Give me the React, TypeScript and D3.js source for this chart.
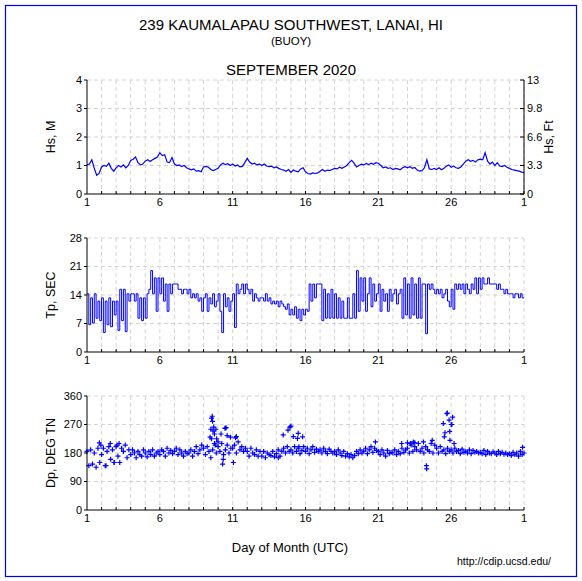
import React from "react";
import * as d3 from "d3";

// ---- Data ----
const HS_PER_DAY = 6;
const hsValues = [
  1.02, 1.05, 1.2, 0.9, 0.66, 0.72, // 1
  0.95, 1.0, 0.97, 1.08, 0.9, 0.8, // 2
  0.92, 1.0, 0.95, 1.02, 0.92, 1.0, // 3
  1.18, 1.22, 1.3, 1.1, 1.02, 1.05, // 4
  1.15, 1.2, 1.14, 1.2, 1.25, 1.3, // 5
  1.45, 1.35, 1.38, 1.12, 1.1, 1.28, // 6
  1.05, 1.0, 1.02, 0.96, 1.0, 0.92, // 7
  0.88, 0.85, 0.88, 0.8, 0.82, 0.78, // 8
  0.95, 0.97, 0.94, 0.86, 0.82, 0.86, // 9
  0.9, 1.02, 1.08, 1.03, 1.06, 1.0, // 10
  1.05, 0.98, 1.02, 0.95, 0.97, 1.1, // 11
  1.25, 1.12, 1.05, 1.08, 1.02, 1.05, // 12
  1.0, 1.05, 0.98, 0.96, 0.98, 0.92, // 13
  0.95, 0.9, 0.86, 0.84, 0.8, 0.86, // 14
  0.76, 0.84, 0.8, 0.78, 0.88, 0.92, // 15
  0.78, 0.72, 0.7, 0.74, 0.72, 0.74, // 16
  0.8, 0.86, 0.8, 0.84, 0.82, 0.86, // 17
  0.9, 0.88, 0.94, 0.9, 0.95, 1.0, // 18
  1.1, 1.18, 1.08, 0.95, 1.0, 1.05, // 19
  1.02, 1.07, 1.03, 1.08, 1.04, 1.1, // 20
  1.08, 1.0, 0.92, 0.95, 0.9, 0.92, // 21
  0.86, 0.9, 0.88, 0.85, 0.92, 0.96, // 22
  0.92, 0.96, 0.9, 0.93, 0.84, 0.8, // 23
  0.82, 0.92, 1.2, 0.88, 0.86, 0.9, // 24
  0.86, 0.92, 0.85, 0.9, 0.97, 1.02, // 25
  0.94, 0.98, 0.92, 0.9, 0.95, 1.05, // 26
  1.15, 1.2, 1.15, 1.18, 1.12, 1.2, // 27
  1.22, 1.2, 1.45, 1.15, 1.05, 1.12, // 28
  1.0, 1.1, 0.98, 0.96, 1.0, 0.94, // 29
  0.9, 0.86, 0.84, 0.82, 0.8, 0.77, // 30
  0.76,
];

const TP_PER_DAY = 8;
const tpValues = [
  14.3, 6.7, 13.3, 7.1, 14.3, 8.3, 12.5, 7.7, // 1
  13.3, 4.8, 12.5, 6.7, 13.3, 6.2, 12.5, 9.1, // 2
  12.5, 5.3, 15.4, 7.7, 15.4, 5.0, 14.3, 12.5, // 3
  14.3, 14.3, 12.5, 14.3, 8.3, 13.3, 7.7, 13.3, // 4
  8.3, 14.3, 15.4, 20.0, 14.3, 18.2, 10.0, 18.2, // 5
  14.3, 18.2, 12.5, 16.7, 10.0, 16.7, 14.3, 16.7, // 6
  16.7, 16.7, 15.4, 15.4, 14.3, 15.4, 15.4, 14.3, // 7
  15.4, 13.3, 14.3, 13.3, 14.3, 12.5, 13.3, 10.0, // 8
  13.3, 14.3, 10.0, 13.3, 11.8, 14.3, 11.1, 12.5, // 9
  14.3, 10.0, 4.8, 14.3, 11.1, 13.3, 10.0, 12.5, // 10
  14.3, 6.0, 16.7, 14.3, 15.4, 16.7, 14.3, 16.7, // 11
  15.4, 14.3, 15.4, 12.5, 14.3, 13.3, 12.5, 13.3, // 12
  13.3, 12.5, 14.3, 12.5, 13.3, 11.8, 12.5, 11.8, // 13
  12.5, 11.1, 12.5, 11.8, 11.1, 10.5, 11.8, 9.1, // 14
  10.5, 9.1, 11.1, 8.3, 10.5, 7.7, 10.5, 9.1, // 15
  10.5, 10.0, 16.7, 12.5, 16.7, 13.3, 16.7, 16.7, // 16
  16.7, 7.7, 15.4, 8.3, 14.3, 8.3, 15.4, 8.3, // 17
  14.3, 8.3, 13.3, 8.3, 12.5, 8.3, 8.3, 13.3, // 18
  8.3, 8.3, 14.3, 8.3, 20.0, 10.0, 18.2, 12.5, // 19
  18.2, 10.0, 14.3, 18.2, 11.1, 16.7, 12.5, 14.3, // 20
  16.7, 10.0, 15.4, 12.5, 14.3, 10.0, 15.4, 12.5, // 21
  14.3, 15.4, 11.8, 14.3, 15.4, 8.3, 18.2, 9.1, // 22
  16.7, 8.3, 18.2, 9.1, 16.7, 8.3, 18.2, 8.3, // 23
  16.7, 16.7, 4.5, 16.7, 15.4, 16.7, 15.4, 14.3, // 24
  15.4, 14.3, 15.4, 13.3, 14.3, 15.4, 12.5, 11.1, // 25
  15.4, 10.5, 16.7, 15.4, 16.7, 15.4, 16.7, 14.3, // 26
  16.7, 15.4, 14.3, 16.7, 15.4, 18.2, 14.3, 18.2, // 27
  15.4, 18.2, 16.7, 16.7, 18.2, 16.7, 16.7, 16.7, // 28
  16.7, 15.4, 16.7, 15.4, 15.4, 14.3, 15.4, 14.3, // 29
  14.3, 14.3, 13.3, 14.3, 14.3, 13.3, 14.3, 13.3, // 30
  13.3,
];

const DP_PER_DAY = 8;
const dpValues = [
  185, 140, 190, 145, 180, 135, 195, 150, // 1
  175, 195, 140, 185, 200, 160, 190, 150, // 2
  200, 170, 150, 195, 185, 205, 165, 190, // 3
  175, 190, 180, 165, 185, 175, 170, 190, // 4
  180, 168, 185, 175, 190, 170, 180, 185, // 5
  175, 190, 185, 170, 195, 180, 188, 178, // 6
  185, 195, 175, 190, 180, 170, 185, 178, // 7
  180, 190, 170, 185, 200, 178, 190, 205, // 8
  195, 175, 200, 185, 165, 190, 210, 180, // 9
  200, 185, 210, 175, 190, 205, 180, 195, // 10
  195, 205, 180, 215, 190, 200, 185, 195, // 11
  185, 170, 195, 180, 175, 190, 170, 185, // 12
  170, 185, 165, 180, 175, 172, 185, 168, // 13
  178, 190, 170, 185, 195, 180, 200, 185, // 14
  190, 180, 200, 185, 195, 178, 188, 200, // 15
  185, 195, 178, 190, 200, 182, 192, 185, // 16
  190, 180, 195, 185, 178, 192, 185, 180, // 17
  185, 175, 190, 180, 172, 185, 170, 178, // 18
  168, 175, 165, 172, 185, 178, 190, 180, // 19
  185, 195, 178, 190, 200, 182, 195, 188, // 20
  185, 175, 190, 180, 170, 188, 178, 182, // 21
  180, 190, 175, 185, 178, 195, 182, 190, // 22
  195, 180, 205, 185, 200, 190, 210, 185, // 23
  195, 180, 200, 190, 185, 210, 180, 205, // 24
  195, 180, 200, 185, 190, 178, 195, 185, // 25
  190, 180, 195, 185, 188, 178, 192, 182, // 26
  185, 180, 190, 178, 188, 182, 185, 180, // 27
  182, 178, 188, 175, 185, 180, 178, 184, // 28
  180, 175, 185, 178, 182, 176, 180, 175, // 29
  178, 172, 182, 175, 180, 170, 185, 175, // 30
  180,
];

// extra scattered direction readings: [day, degrees]
const dpOutliers: [number, number][] = [
  [1.85, 212], [1.95, 205], [2.3, 140], [2.6, 210], [2.85, 150], [3.05, 205], [3.2, 210],
  [9.45, 230], [9.5, 255], [9.55, 290], [9.6, 296], [9.62, 280], [9.65, 250], [9.7, 262],
  [9.75, 240], [9.85, 255], [9.9, 225], [10.0, 215], [9.55, 225], [9.8, 205],
  [10.2, 240], [10.31, 145], [10.35, 160], [10.47, 258], [10.55, 260], [10.62, 235],
  [10.85, 230], [11.05, 150], [11.2, 228], [11.25, 232],
  [14.13, 165], [14.47, 237], [14.8, 252], [14.93, 262], [15.0, 265], [15.16, 232],
  [15.45, 226], [15.5, 242], [15.8, 231], [15.55, 200],
  [20.8, 215], [22.6, 210], [23.0, 212], [23.2, 210], [23.4, 215], [23.5, 212],
  [24.1, 215], [24.3, 140], [24.32, 130], [24.7, 220],
  [25.46, 273], [25.53, 231], [25.58, 244], [25.7, 304], [25.74, 306], [25.86, 284],
  [25.9, 248], [25.92, 220], [26.0, 270], [26.05, 270], [26.1, 293], [26.2, 210],
  [30.9, 198],
];

const xTickDays = [1, 6, 11, 16, 21, 26, 31];
const xTickLabels = ["1", "6", "11", "16", "21", "26", "1"];
const hsTicks = [0, 1, 2, 3, 4];
const ftLabels = ["0", "3.3", "6.6", "9.8", "13"];
const tpTicks = [0, 7, 14, 21, 28];
const dpTicks = [0, 90, 180, 270, 360];

const FONT = "'Liberation Sans', Arial, Helvetica, sans-serif";
const BLUE = "#0000ff";
const X0 = 87;
const X1 = 524;
const PH = 114;

const x = d3.scaleLinear().domain([1, 31]).range([X0, X1]);
const allDays = d3.range(1, 32);

type PanelProps = {
  top: number;
  ticks: number[];
  label: string;
  rightLabels?: string[];
  rightTitle?: string;
  children: (y: d3.ScaleLinear<number, number>) => React.ReactNode;
};

function Panel({ top, ticks, label, rightLabels, rightTitle, children }: PanelProps) {
  const bottom = top + PH;
  const y = d3.scaleLinear().domain([ticks[0], ticks[ticks.length - 1]]).range([bottom, top]);
  return (
    <g>
      {allDays.slice(1).map((d) => (
        <line key={"v" + d} x1={x(d)} x2={x(d)} y1={top} y2={bottom} stroke="#d4d4d4" strokeDasharray="4,3" />
      ))}
      {ticks.slice(1).map((t) => (
        <line key={"h" + t} x1={X0} x2={X1} y1={y(t)} y2={y(t)} stroke="#d4d4d4" strokeDasharray="4,3" />
      ))}
      {children(y)}
      <line x1={X0} x2={X0} y1={top} y2={bottom} stroke="#000" />
      <line x1={X0} x2={X1} y1={bottom} y2={bottom} stroke="#000" />
      {ticks.map((t) => (
        <g key={"lt" + t}>
          <line x1={X0 - 3} x2={X0} y1={y(t)} y2={y(t)} stroke="#000" />
          <text x={X0 - 5} y={y(t)} dy="0.35em" textAnchor="end" fontSize={11} fontFamily={FONT}>
            {t}
          </text>
        </g>
      ))}
      {allDays.slice(1).map((d) => (
        <line key={"bt" + d} x1={x(d)} x2={x(d)} y1={bottom - 3} y2={bottom} stroke="#000" />
      ))}
      {xTickDays.map((d, i) => (
        <text key={"xl" + i} x={x(d)} y={bottom + 12} textAnchor="middle" fontSize={11} fontFamily={FONT}>
          {xTickLabels[i]}
        </text>
      ))}
      <text
        transform={`translate(55,${(top + bottom) / 2}) rotate(-90)`}
        textAnchor="middle"
        fontSize={12.5}
        fontFamily={FONT}
      >
        {label}
      </text>
      {rightLabels && (
        <g>
          <line x1={X1} x2={X1} y1={top} y2={bottom} stroke="#000" />
          {ticks.map((t, i) => (
            <g key={"rt" + t}>
              <line x1={X1 - 4} x2={X1} y1={y(t)} y2={y(t)} stroke="#000" />
              <text x={X1 + 3} y={y(t)} dy="0.35em" textAnchor="start" fontSize={11} fontFamily={FONT}>
                {rightLabels[i]}
              </text>
            </g>
          ))}
          <text
            transform={`translate(553,${(top + bottom) / 2}) rotate(-90)`}
            textAnchor="middle"
            fontSize={12.5}
            fontFamily={FONT}
          >
            {rightTitle}
          </text>
        </g>
      )}
    </g>
  );
}

export default function App() {
  const hsPts = hsValues.map((v, i) => [1 + i / HS_PER_DAY, v] as [number, number]);
  const tpPts = tpValues.map((v, i) => [1 + i / TP_PER_DAY, v] as [number, number]);
  const dpPts: [number, number][] = dpValues
    .map((v, i) => [1 + i / DP_PER_DAY, v] as [number, number])
    .concat(dpOutliers);

  return (
    <svg
      width={582}
      height={581}
      style={{ position: "absolute", left: 0, top: 0, background: "#fff" }}
      fontFamily={FONT}
    >
      <rect x={0} y={0} width={582} height={581} fill="#fff" />
      <rect x={5.5} y={5.5} width={571} height={571} fill="none" stroke="#0000ee" strokeWidth={1.2} />
      <text x={291} y={30} textAnchor="middle" fontSize={15}>
        239 KAUMALAPAU SOUTHWEST, LANAI, HI
      </text>
      <text x={291} y={45} textAnchor="middle" fontSize={11.5}>
        (BUOY)
      </text>
      <text x={291} y={75} textAnchor="middle" fontSize={15}>
        SEPTEMBER 2020
      </text>

      <Panel top={80} ticks={hsTicks} label="Hs, M" rightLabels={ftLabels} rightTitle="Hs, Ft">
        {(y) => {
          const line = d3
            .line<[number, number]>()
            .x((d) => x(d[0]))
            .y((d) => y(d[1]));
          return <path d={line(hsPts) || ""} fill="none" stroke={BLUE} strokeWidth={1.2} />;
        }}
      </Panel>

      <Panel top={238} ticks={tpTicks} label="Tp, SEC">
        {(y) => {
          const line = d3
            .line<[number, number]>()
            .curve(d3.curveStepAfter)
            .x((d) => x(d[0]))
            .y((d) => y(d[1]));
          return <path d={line(tpPts) || ""} fill="none" stroke={BLUE} strokeWidth={1} />;
        }}
      </Panel>

      <Panel top={396} ticks={dpTicks} label="Dp, DEG TN">
        {(y) => {
          const d = dpPts
            .map(([t, v]) => {
              const px = x(t);
              const py = y(v);
              return `M${px - 2.5},${py}H${px + 2.5}M${px},${py - 2.5}V${py + 2.5}`;
            })
            .join("");
          return <path d={d} fill="none" stroke={BLUE} strokeWidth={1.2} />;
        }}
      </Panel>

      <text x={290} y={552} textAnchor="middle" fontSize={13}>
        Day of Month (UTC)
      </text>
      <text x={551} y={565} textAnchor="end" fontSize={10.5}>
        http://cdip.ucsd.edu/
      </text>
    </svg>
  );
}
